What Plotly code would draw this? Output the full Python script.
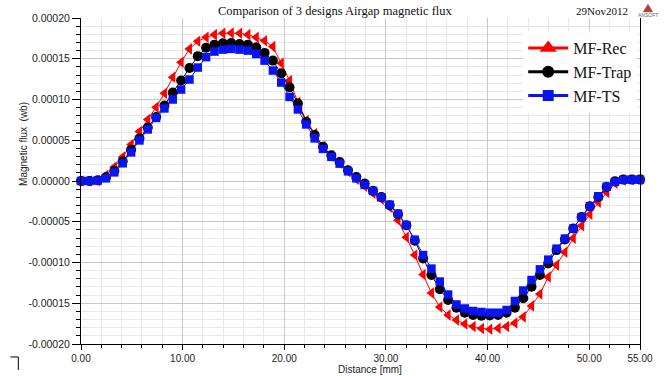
import plotly.graph_objects as go

# Distance [mm]
distance = [0, 0.82, 1.64, 2.46, 3.28, 4.10, 4.93, 5.75, 6.57, 7.39, 8.21, 9.03, 9.85,
            10.67, 11.49, 12.31, 13.13, 13.96, 14.78, 15.60, 16.42, 17.24, 18.06, 18.88,
            19.70, 20.52, 21.34, 22.16, 22.99, 23.81, 24.63, 25.45, 26.27, 27.09, 27.91,
            28.73, 29.55, 30.37, 31.19, 32.01, 32.84, 33.66, 34.48, 35.30, 36.12, 36.94,
            37.76, 38.58, 39.40, 40.22, 41.04, 41.87, 42.69, 43.51, 44.33, 45.15, 45.97,
            46.79, 47.61, 48.43, 49.25, 50.07, 50.90, 51.72, 52.54, 53.36, 54.18, 55.00]

# Magnetic flux, in units of 1e-5 Wb
mf_rec = [0.0, 0.0, 0.02, 0.70, 1.71, 2.94, 4.49, 6.08, 7.55, 9.06, 10.77, 12.73, 14.57,
          16.21, 17.14, 17.63, 17.96, 18.12, 18.16, 18.12, 17.96, 17.63, 17.22, 16.49,
          14.44, 12.33, 9.67, 7.43, 5.84, 4.25, 3.08, 2.17, 1.13, 0.21, -0.65, -1.51,
          -2.24, -3.22, -4.81, -6.89, -9.09, -11.48, -13.75, -15.46, -16.44, -17.05,
          -17.54, -17.85, -18.09, -18.19, -18.07, -17.85, -17.42, -16.68, -15.34, -13.87,
          -11.79, -10.32, -8.73, -7.01, -5.48, -4.08, -2.61, -1.38, -0.28, 0.09, 0.15, 0.15]

mf_trap = [0.0, 0.0, 0.09, 0.45, 1.25, 2.41, 3.82, 5.23, 6.57, 7.86, 9.27, 10.86, 12.33,
           13.86, 15.32, 16.36, 16.73, 16.89, 16.94, 16.82, 16.73, 16.40, 15.72, 14.77,
           13.22, 11.51, 9.51, 7.25, 5.65, 4.19, 3.15, 2.33, 1.31, 0.49, -0.32, -1.20,
           -1.96, -2.97, -4.08, -5.42, -7.32, -9.50, -11.54, -13.29, -14.60, -15.54,
           -16.16, -16.44, -16.52, -16.50, -16.44, -16.16, -15.54, -14.39, -12.97, -11.54,
           -10.11, -8.48, -7.17, -5.83, -4.41, -3.10, -1.96, -0.73, -0.04, 0.17, 0.17, 0.17]

mf_ts = [0.0, 0.0, 0.05, 0.33, 1.06, 2.17, 3.51, 4.98, 6.33, 7.74, 8.90, 10.00, 11.22,
         12.45, 13.92, 15.20, 15.88, 16.12, 16.21, 16.12, 16.00, 15.59, 14.77, 13.55,
         12.08, 10.31, 8.78, 6.94, 5.23, 3.94, 2.96, 2.13, 1.19, 0.33, -0.47, -1.22,
         -2.00, -2.91, -4.01, -5.42, -7.20, -9.09, -10.75, -12.34, -13.93, -15.15,
         -15.64, -15.95, -16.07, -16.16, -16.16, -15.83, -14.72, -13.44, -12.15, -10.84,
         -9.65, -8.30, -7.07, -5.85, -4.44, -3.10, -1.87, -0.71, -0.10, 0.15, 0.17, 0.17]

series_names = ["MF-Rec", "MF-Trap", "MF-TS"]

x_tick_vals = [0, 10, 20, 30, 40, 50, 55]
x_tick_text = ["0.00", "10.00", "20.00", "30.00", "40.00", "50.00", "55.00"]
y_tick_vals = [-0.0002, -0.00015, -0.0001, -0.00005, 0, 0.00005, 0.0001, 0.00015, 0.0002]
y_tick_text = ["-0.00020", "-0.00015", "-0.00010", "-0.00005", "0.00000",
               "0.00005", "0.00010", "0.00015", "0.00020"]

scale = 1e-5
RED, BLACK, BLUE = "#ff0000", "#000000", "#0a14f0"

fig = go.Figure()

styles = [
    (series_names[0], mf_rec, RED, "triangle-left", 10, "triangle-up", 15),
    (series_names[1], mf_trap, BLACK, "circle", 10, "circle", 12),
    (series_names[2], mf_ts, BLUE, "square", 8.5, "square", 11),
]

for name, vals, col, sym, size, lsym, lsize in styles:
    fig.add_trace(go.Scatter(
        x=distance, y=[v * scale for v in vals], mode="lines+markers",
        line=dict(color=col, width=1), marker=dict(symbol=sym, size=size, color=col),
        showlegend=False, cliponaxis=False, name=name))

for name, vals, col, sym, size, lsym, lsize in styles:
    fig.add_trace(go.Scatter(
        x=[None], y=[None], mode="lines+markers", name=name,
        line=dict(color=col, width=3), marker=dict(symbol=lsym, size=lsize, color=col)))

fig.update_layout(
    width=665, height=376,
    margin=dict(l=81, r=22, t=17, b=32),
    paper_bgcolor="white", plot_bgcolor="white",
    font=dict(family="Liberation Sans, Arial, sans-serif", color="#222222", size=10),
    showlegend=True,
    legend=dict(x=0.995, y=0.96, xanchor="right", yanchor="top",
                bgcolor="white", borderwidth=0, itemsizing="trace", itemwidth=40,
                tracegroupgap=0,
                font=dict(family="Liberation Serif, Times New Roman, serif", size=16, color="#111111")),
    xaxis=dict(range=[0, 55], tickvals=x_tick_vals, ticktext=x_tick_text,
               showline=True, linecolor="black", linewidth=1, mirror=False,
               ticks="outside", ticklen=5, tickcolor="black",
               showgrid=True, gridcolor="#c8c8c8", gridwidth=1, zeroline=False,
               tickfont=dict(size=10, color="#222222"),
               minor=dict(dtick=2, tick0=0, ticks="outside", ticklen=3, tickcolor="black",
                          showgrid=True, gridcolor="#e8e8e8", gridwidth=1)),
    yaxis=dict(range=[-0.0002, 0.0002], tickvals=y_tick_vals, ticktext=y_tick_text,
               showline=True, linecolor="black", linewidth=1, mirror=True,
               ticks="outside", ticklen=8, tickcolor="black",
               showgrid=True, gridcolor="#c8c8c8", gridwidth=1, zeroline=False,
               tickfont=dict(size=10.5, color="#222222"),
               minor=dict(dtick=0.00001, tick0=0, ticks="outside", ticklen=4, tickcolor="black",
                          showgrid=True, gridcolor="#e8e8e8", gridwidth=1)),
)

annotations = [
    dict(text="Comparison of 3 designs Airgap magnetic flux", xref="paper", yref="paper",
         x=(337 - 81) / 562, y=1 + (17 - 9.5) / 327, xanchor="center", yanchor="middle",
         showarrow=False, font=dict(family="Liberation Serif, Times New Roman, serif", size=12.5, color="#111111")),
    dict(text="29Nov2012", xref="paper", yref="paper",
         x=(605 - 81) / 562, y=1 + (17 - 9.5) / 327, xanchor="center", yanchor="middle",
         showarrow=False, font=dict(family="Liberation Serif, Times New Roman, serif", size=11, color="#111111")),
    dict(text="ANSOFT", xref="paper", yref="paper",
         x=(651 - 81) / 562, y=1 + (17 - 14) / 327, xanchor="center", yanchor="middle",
         showarrow=False, font=dict(family="Liberation Sans, Arial, sans-serif", size=5, color="#666666")),
    dict(text="Magnetic flux  (wb)", xref="paper", yref="paper",
         x=(23 - 81) / 562, y=(344 - 143) / 327, xanchor="center", yanchor="middle",
         textangle=-90, showarrow=False,
         font=dict(family="Liberation Sans, Arial, sans-serif", size=10, color="#222222")),
    dict(text="Distance [mm]", xref="paper", yref="paper",
         x=(372 - 81) / 562, y=-(369.5 - 344) / 327, xanchor="center", yanchor="middle",
         showarrow=False, font=dict(family="Liberation Sans, Arial, sans-serif", size=10, color="#222222")),
]
fig.update_layout(annotations=annotations)

def px(xp, yp):
    return (xp - 81) / 562, (344 - yp) / 327

shapes = []
# Ansoft logo triangle
ax, ay = px(646, 11)
bx, by = px(656, 11)
cx, cy = px(651, 3)
shapes.append(dict(type="path", xref="paper", yref="paper",
                   path=f"M {ax} {ay} L {bx} {by} L {cx} {cy} Z",
                   fillcolor="#c0392b", line=dict(color="#8a8a8a", width=0.5)))
# corner mark bottom-left
x1, y1 = px(10, 357)
x2, y2 = px(18, 357)
x3, y3 = px(18, 370)
shapes.append(dict(type="path", xref="paper", yref="paper",
                   path=f"M {x1} {y1} L {x2} {y2} L {x3} {y3}",
                   line=dict(color="black", width=1)))
fig.update_layout(shapes=shapes)

fig.write_html("out.html", config={"displayModeBar": False})

# remove default page margin so the figure sits at the window's top-left corner
with open("out.html", "r", encoding="utf-8") as f:
    html = f.read()
html = html.replace("<head>", "<head><style>html,body{margin:0;padding:0;overflow:hidden;}</style>", 1)
with open("out.html", "w", encoding="utf-8") as f:
    f.write(html)
